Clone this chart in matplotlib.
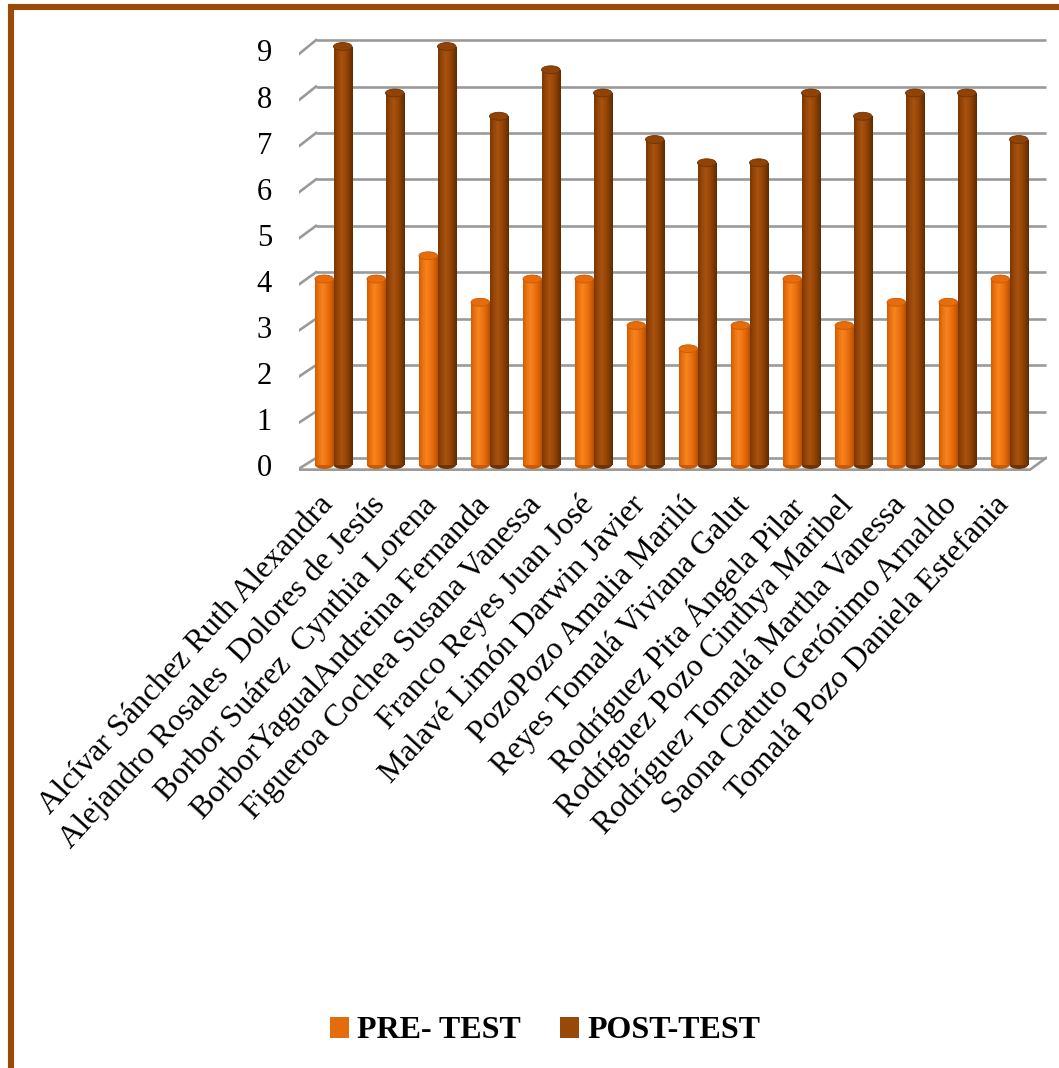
import numpy as np
import matplotlib
matplotlib.use("Agg")
import matplotlib.pyplot as plt
from matplotlib.colors import LinearSegmentedColormap
from matplotlib.patches import Ellipse, Patch, Rectangle

# ---- data -------------------------------------------------------------
students = [
    "Alcívar Sánchez Ruth Alexandra",
    "Alejandro Rosales  Dolores de Jesús",
    "Borbor Suárez  Cynthia Lorena",
    "BorborYagualAndreina Fernanda",
    "Figueroa Cochea Susana Vanessa",
    "Franco Reyes Juan José",
    "Malavé Limón Darwin Javier",
    "PozoPozo Amalia Marilú",
    "Reyes Tomalá Viviana Galut",
    "Rodríguez Pita Ángela Pilar",
    "Rodríguez Pozo Cinthya Maribel",
    "Rodríguez Tomalá Martha Vanessa",
    "Saona Catuto Gerónimo Arnaldo",
    "Tomalá Pozo Daniela Estefania",
]
pre_test = [4, 4, 4.5, 3.5, 4, 4, 3, 2.5, 3, 4, 3, 3.5, 3.5, 4]
post_test = [9, 8, 9, 7.5, 8.5, 8, 7, 6.5, 6.5, 8, 7.5, 8, 8, 7]
series_names = ["PRE- TEST", "POST-TEST"]
y_ticks = list(range(0, 10))

# ---- style ------------------------------------------------------------
SERIF = ["Liberation Serif", "DejaVu Serif"]
PRE_COLOR = "#E46C0A"
POST_COLOR = "#984807"
FRAME_COLOR = "#9C4A08"
GRID_COLOR = "#9A9A9A"

pre_cmap = LinearSegmentedColormap.from_list(
    "pre", ["#d25c04", "#ee7210", "#f6841f", "#f07613", "#de6507", "#b65000"])
post_cmap = LinearSegmentedColormap.from_list(
    "post", ["#7a3704", "#974608", "#a7520e", "#9c4808", "#813b03", "#5f2a01"])

W, H = 1059, 1068
fig = plt.figure(figsize=(W / 100, H / 100), dpi=100)

# plot area (pixel box of the back wall + floor)
px_left, px_right, px_top, px_bottom = 299, 1047, 30, 480
ax = fig.add_axes([px_left / W, 1 - px_bottom / H,
                   (px_right - px_left) / W, (px_bottom - px_top) / H])
XLIM = (-0.6635, 13.721)
YLIM = (-0.3226, 9.355)
ax.axis("off")

# depth offsets of the pseudo-3D walls, in value units
BACK_DY, FRONT_DY = 0.15, -0.08
back_x0, back_x1 = -0.3365, 13.70
front_x0, front_x1 = -0.6635, 13.394

# back-wall gridlines and their slanted side-wall ticks
for k in y_ticks:
    yb = k * 0.9987 + BACK_DY
    yf = k * 0.991 + FRONT_DY
    ax.plot([back_x0, back_x1], [yb, yb], color=GRID_COLOR, lw=1.9,
            solid_capstyle="butt", zorder=1)
    ax.plot([front_x0, back_x0], [yf, yb], color=GRID_COLOR, lw=1.9, zorder=1)
    ax.text(-1.183, yf, str(k), ha="right", va="center", fontsize=22,
            family=SERIF, clip_on=False)

# floor outline
ax.plot([front_x0, front_x1, back_x1], [FRONT_DY - 0.02, FRONT_DY - 0.02, BACK_DY],
        color=GRID_COLOR, lw=1.9, zorder=1)

# cylinder-style columns
n = len(students)
x = np.arange(n)
bw = 0.356
cap_h = 0.17
grad = np.linspace(0, 1, 64).reshape(1, -1)

def cylinders(xpos, values, cmap, cap_color, base_color):
    bars = ax.bar(xpos, values, width=bw, color="none", edgecolor="none", zorder=3)
    for bar in bars:
        x0 = bar.get_x()
        x1 = x0 + bar.get_width()
        xc = (x0 + x1) / 2
        top = bar.get_height()
        ax.add_patch(Ellipse((xc, 0), bw, cap_h, facecolor=base_color,
                             edgecolor="none", zorder=2.9))
        im = ax.imshow(grad, cmap=cmap, extent=[x0, x1, 0, top],
                       aspect="auto", interpolation="bilinear", zorder=3)
        im.set_clip_path(bar)
        ax.add_patch(Ellipse((xc, top), bw, cap_h,
                             facecolor=cap_color, edgecolor=base_color,
                             lw=0.6, zorder=3.5))
    return bars

cylinders(x - bw / 2, pre_test, pre_cmap, "#e66d0c", "#c85a02")
cylinders(x + bw / 2, post_test, post_cmap, "#8f4306", "#6e3203")
ax.set_xlim(*XLIM)
ax.set_ylim(*YLIM)

# rotated category labels
for xi, name in zip(x, students):
    ax.text(xi - 0.30, -0.55, name, rotation=47.5, rotation_mode="anchor",
            ha="right", va="top", fontsize=23, family=SERIF, clip_on=False)

# legend
handles = [Patch(facecolor=PRE_COLOR, edgecolor="none"),
           Patch(facecolor=POST_COLOR, edgecolor="none")]
fig.legend(handles, series_names, loc="center", bbox_to_anchor=(545 / W, 1 - 1031 / H),
           ncol=2, frameon=False, handlelength=0.62, handleheight=0.62,
           handletextpad=0.25, columnspacing=1.2,
           prop={"family": SERIF, "weight": "bold", "size": 23})

# brown frame on the left and top edges
fig.patches.append(Rectangle((11, -40), W + 60, H - 7 + 40, transform=None,
                             facecolor="none", edgecolor=FRAME_COLOR, lw=4.4,
                             zorder=10))

fig.savefig("out.png", dpi=100)
